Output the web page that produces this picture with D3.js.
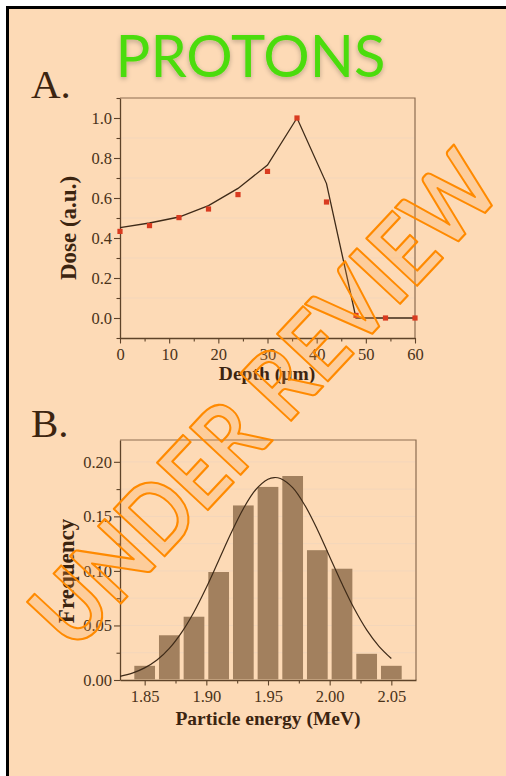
<!DOCTYPE html>
<html>
<head>
<meta charset="utf-8">
<script src="https://cdn.jsdelivr.net/npm/d3@7"></script>
<style>
  html, body { margin: 0; padding: 0; background: #ffffff; }
  svg { display: block; }
</style>
</head>
<body>
<svg id="chart" width="506" height="776"></svg>
<script>
// ---------------- data ----------------
const depthPoints = [0, 6, 12, 18, 24, 30, 36, 42, 48, 54, 60];
const doseMeasured = [0.433, 0.462, 0.502, 0.545, 0.617, 0.733, 1.0, 0.58, 0.013, 0.0, 0.0];
const depthLine = [0, 6, 12, 18, 24, 30, 36, 42, 48, 54, 60];
const doseLine = [0.452, 0.475, 0.505, 0.562, 0.648, 0.765, 1.0, 0.672, 0.0, 0.0, 0.0];
const depthTicks = [0, 10, 20, 30, 40, 50, 60];
const doseTicks = [0.0, 0.2, 0.4, 0.6, 0.8, 1.0];

const energyBins = [1.85, 1.87, 1.89, 1.91, 1.93, 1.95, 1.97, 1.99, 2.01, 2.03, 2.05];
const frequency = [0.013, 0.041, 0.058, 0.099, 0.160, 0.177, 0.187, 0.119, 0.102, 0.024, 0.013];
const fitEnergy = [1.83, 1.84, 1.85, 1.86, 1.87, 1.88, 1.89, 1.90, 1.91, 1.92, 1.93, 1.94, 1.95, 1.955, 1.96, 1.97, 1.98, 1.99, 2.00, 2.01, 2.02, 2.03, 2.04, 2.05];
const fitFreq = [0.0034, 0.0063, 0.0111, 0.0183, 0.029, 0.0437, 0.0624, 0.0848, 0.1096, 0.1345, 0.157, 0.1744, 0.184, 0.1856, 0.1847, 0.1763, 0.1599, 0.138, 0.113, 0.0882, 0.0653, 0.046, 0.0309, 0.0197];
const energyTicks = [1.85, 1.90, 1.95, 2.00, 2.05];
const freqTicks = [0.00, 0.05, 0.10, 0.15, 0.20];

// ---------------- styles ----------------
const BG = "#fddab6";
const AXIS = "#5e4329";
const FRAME = "#8d6d50";
const TXT = "#4a3219";
const TITLE = "#3c2410";
const SERIF = "'Liberation Serif', 'DejaVu Serif', serif";

const svg = d3.select("#chart");
const defs = svg.append("defs");

// page frame
svg.append("rect").attr("x", 0).attr("y", 0).attr("width", 506).attr("height", 776).attr("fill", "#fff");
svg.append("rect").attr("x", 9).attr("y", 9).attr("width", 497).attr("height", 767).attr("fill", BG);
svg.append("line").attr("x1", 7.5).attr("x2", 7.5).attr("y1", 6).attr("y2", 776).attr("stroke", "#000").attr("stroke-width", 3);
svg.append("line").attr("x1", 6).attr("x2", 506).attr("y1", 7.5).attr("y2", 7.5).attr("stroke", "#000").attr("stroke-width", 3);

// title shadow filter
const f = defs.append("filter").attr("id", "glow").attr("x", "-20%").attr("y", "-40%").attr("width", "140%").attr("height", "180%");
f.append("feGaussianBlur").attr("in", "SourceAlpha").attr("stdDeviation", 2.5).attr("result", "b");
f.append("feOffset").attr("in", "b").attr("dx", 0).attr("dy", 1.5).attr("result", "o");
f.append("feComponentTransfer").attr("in", "o").attr("result", "s")
  .append("feFuncA").attr("type", "linear").attr("slope", 0.25);
const fm = f.append("feMerge");
fm.append("feMergeNode").attr("in", "s");
fm.append("feMergeNode").attr("in", "SourceGraphic");

svg.append("text").attr("x", 250.5).attr("y", 77).attr("text-anchor", "middle")
  .attr("font-family", "Lato, 'Open Sans', sans-serif").attr("font-size", 58)
  .attr("fill", "#4cdc0c").attr("filter", "url(#glow)").text("PROTONS");

svg.append("text").attr("x", 31).attr("y", 98).attr("font-family", SERIF).attr("font-size", 41).attr("fill", TITLE).text("A.");
svg.append("text").attr("x", 31).attr("y", 437).attr("font-family", SERIF).attr("font-size", 41).attr("fill", TITLE).text("B.");

function styleAxis(g) {
  g.select(".domain").attr("stroke", AXIS).attr("stroke-width", 1.3);
  g.selectAll(".tick line").attr("stroke", AXIS).attr("stroke-width", 1.1);
  g.selectAll(".tick text").attr("fill", TXT).attr("font-family", SERIF).attr("font-size", 16.5);
}

function panel(opts) {
  const { x, y, xMajor, yMajor, xMinor, yMinor, grid, xFmt, yFmt } = opts;
  const [x0, x1] = x.range();
  const [y0, y1] = y.range(); // y0 bottom, y1 top
  const g = svg.append("g");
  g.append("g").selectAll("line").data(grid).join("line")
    .attr("x1", x0).attr("x2", x1).attr("y1", d => y(d)).attr("y2", d => y(d))
    .attr("stroke", "#f3d6bb").attr("stroke-width", 1);
  g.append("path").attr("d", `M${x0},${y1}H${x1}V${y0}`).attr("fill", "none").attr("stroke", FRAME).attr("stroke-width", 1.2);
  g.append("g").attr("transform", `translate(0,${y0})`)
    .call(d3.axisBottom(x).tickValues(xMinor).tickSize(3.5).tickFormat(""))
    .call(styleAxis).select(".domain").remove();
  g.append("g").attr("transform", `translate(${x0},0)`)
    .call(d3.axisLeft(y).tickValues(yMinor).tickSize(3.5).tickFormat(""))
    .call(styleAxis).select(".domain").remove();
  g.append("g").attr("transform", `translate(0,${y0})`)
    .call(d3.axisBottom(x).tickValues(xMajor).tickSize(5.5).tickSizeOuter(0).tickPadding(5).tickFormat(xFmt))
    .call(styleAxis);
  g.append("g").attr("transform", `translate(${x0},0)`)
    .call(d3.axisLeft(y).tickValues(yMajor).tickSize(6).tickSizeOuter(0).tickPadding(2).tickFormat(yFmt))
    .call(styleAxis);
  return g;
}

// ---------------- Panel A ----------------
const xA = d3.scaleLinear().domain([0, 60]).range([120, 415]);
const yA = d3.scaleLinear().domain([-0.1, 1.1]).range([338, 98]);
panel({
  x: xA, y: yA,
  xMajor: depthTicks, yMajor: doseTicks,
  xMinor: [5, 15, 25, 35, 45, 55],
  yMinor: [-0.1, 0.1, 0.3, 0.5, 0.7, 0.9, 1.1],
  grid: [0.1, 0.3, 0.5, 0.7, 0.9],
  xFmt: d3.format("d"), yFmt: d3.format(".1f")
});
const lineA = d3.line().x(d => xA(d[0])).y(d => yA(d[1]));
svg.append("path").datum(depthLine.map((d, i) => [d, doseLine[i]]))
  .attr("d", lineA).attr("fill", "none").attr("stroke", "#3e2a18").attr("stroke-width", 1.3);
svg.append("g").selectAll("rect").data(depthPoints.map((d, i) => [d, doseMeasured[i]])).join("rect")
  .attr("x", d => xA(d[0]) - 2.6).attr("y", d => yA(d[1]) - 2.6)
  .attr("width", 5.2).attr("height", 5.2).attr("fill", "#d93b20");
svg.append("text").attr("x", 267).attr("y", 380).attr("text-anchor", "middle")
  .attr("font-family", SERIF).attr("font-weight", "bold").attr("font-size", 19.5).attr("fill", TITLE).text("Depth (µm)");
svg.append("text").attr("transform", "translate(76,228) rotate(-90)").attr("text-anchor", "middle")
  .attr("font-family", SERIF).attr("font-weight", "bold").attr("font-size", 23).attr("fill", TITLE).text("Dose (a.u.)");

// ---------------- Panel B ----------------
const xB = d3.scaleLinear().domain([1.83, 2.07]).range([120, 416]);
const yB = d3.scaleLinear().domain([0, 0.22]).range([680, 440]);
panel({
  x: xB, y: yB,
  xMajor: energyTicks, yMajor: freqTicks,
  xMinor: [1.875, 1.925, 1.975, 2.025],
  yMinor: [0.025, 0.075, 0.125, 0.175],
  grid: [0.025, 0.05, 0.075, 0.1, 0.125, 0.15, 0.175, 0.2],
  xFmt: d3.format(".2f"), yFmt: d3.format(".2f")
});
const bw = 0.0168;
svg.append("g").selectAll("rect").data(energyBins.map((d, i) => [d, frequency[i]])).join("rect")
  .attr("x", d => xB(d[0] - bw / 2)).attr("width", d => xB(d[0] + bw / 2) - xB(d[0] - bw / 2))
  .attr("y", d => yB(d[1])).attr("height", d => yB(0) - yB(d[1]) - 0.6)
  .attr("fill", "#a2805e");
const lineB = d3.line().x(d => xB(d[0])).y(d => yB(d[1])).curve(d3.curveCatmullRom);
svg.append("path").datum(fitEnergy.map((d, i) => [d, fitFreq[i]]))
  .attr("d", lineB).attr("fill", "none").attr("stroke", "#3e2a18").attr("stroke-width", 1.2);
svg.append("text").attr("x", 268).attr("y", 725).attr("text-anchor", "middle")
  .attr("font-family", SERIF).attr("font-weight", "bold").attr("font-size", 19.5).attr("fill", TITLE).text("Particle energy (MeV)");
svg.append("text").attr("transform", "translate(74,571) rotate(-90)").attr("text-anchor", "middle")
  .attr("font-family", SERIF).attr("font-weight", "bold").attr("font-size", 23).attr("fill", TITLE).text("Frequency");

// ---------------- watermark ----------------
const wm = svg.append("g").attr("transform", "translate(262,397) rotate(-47)");
const wmFont = "Lato, 'Open Sans', sans-serif";
const wmSize = 96;
const wmFill = wm.append("text").attr("text-anchor", "middle").attr("dominant-baseline", "central")
  .attr("font-family", wmFont).attr("font-weight", "bold").attr("font-size", wmSize)
  .attr("fill", "#ffa040").attr("opacity", 0.22).text("UNDER REVIEW");
const wmLine = wm.append("text").attr("text-anchor", "middle").attr("dominant-baseline", "central")
  .attr("font-family", wmFont).attr("font-weight", "bold").attr("font-size", wmSize)
  .attr("fill", "none").attr("stroke", "#ff8a00").attr("stroke-width", 2.2).attr("stroke-linejoin", "round")
  .text("UNDER REVIEW");
const natural = wmFill.node().getComputedTextLength();
[wmFill, wmLine].forEach(t => t.attr("textLength", natural * 0.87).attr("lengthAdjust", "spacingAndGlyphs"));
</script>
</body>
</html>
